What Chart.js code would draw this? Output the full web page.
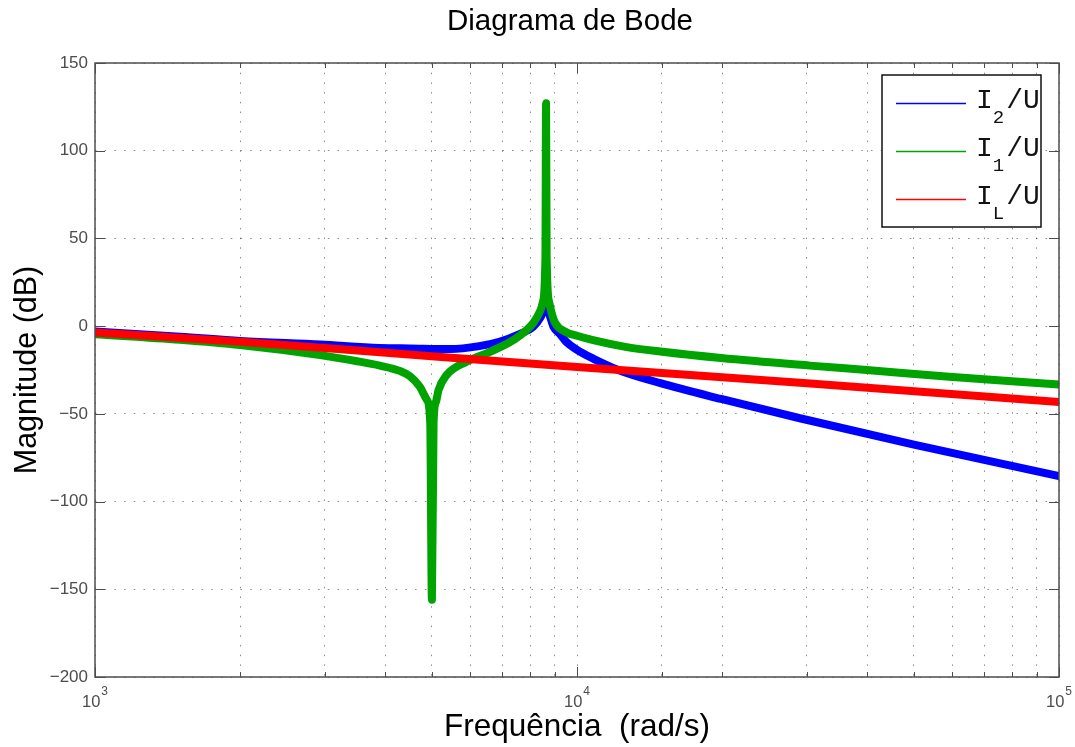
<!DOCTYPE html>
<html>
<head>
<meta charset="utf-8">
<title>Diagrama de Bode</title>
<script src="https://cdn.jsdelivr.net/npm/chart.js@4.4.1/dist/chart.umd.min.js"></script>
<style>
  html, body { margin: 0; padding: 0; background: #fff; }
  #wrap { width: 1075px; height: 747px; position: relative; }
</style>
</head>
<body>
<div id="wrap"><canvas id="bode"></canvas></div>
<script>
// I2/U magnitude (dB) vs frequency (rad/s)
var i2Freq = [1000, 1500, 2000, 2930, 3900, 4500, 5460, 6270, 6900, 7600, 8100, 8400, 8580, 8626, 8680, 8850, 8940, 9220, 9500, 10000, 10800, 12100, 14900, 19900, 29000, 50000, 100000];
var i2Mag  = [-3.1, -6.0, -8.4, -10.5, -12.4, -12.7, -13.1, -11.4, -8.9, -4.5, -0.5, 5, 11, 14, 11, 3, -0.5, -4.5, -9, -13.5, -18.5, -24.7, -32.5, -41.5, -52.5, -67.5, -85.5];

// I1/U
var i1Freq = [1000, 1500, 2000, 2930, 3500, 3900, 4290, 4500, 4720, 4880, 4960, 5000, 5040, 5100, 5160, 5360, 5900, 6600, 7370, 8100, 8400, 8500, 8600, 8626, 8650, 8750, 8850, 9000, 9500, 10000, 10800, 12600, 14900, 19900, 30400, 39900, 59200, 100000];
var i1Mag  = [-4.6, -7.8, -10.8, -16.5, -20, -22.5, -25.5, -28.5, -34.6, -42, -55, -156, -55, -43, -36.5, -28, -20.3, -14.6, -8, 1.5, 9, 14, 40, 127, 40, 14, 8, 2, -3.5, -5.5, -8, -11.8, -14.5, -18.2, -22.5, -25.0, -28.8, -33.3];

// IL/U
var iLFreq = [1000, 2000, 3900, 10000, 30000, 100000];
var iLMag  = [-3.6, -8.9, -14.9, -23.3, -32.6, -43.2];

// legend text pieces: I + subscript + /U
var legendSubs = ['2', '1', 'L'];
var legendTail = '/U';

// x decade labels: 10^n
var xTickExponents = [3, 4, 5];

var chartTitle = 'Diagrama de Bode';

var sansFont = "'Liberation Sans', Arial, Helvetica, sans-serif";
var monoFont = "'Liberation Mono', 'Courier New', monospace";
var axisGray = '#4d4d4d';

function toPoints(xs, ys) {
    return xs.map(function (x, i) { return { x: x, y: ys[i] }; });
}

function isDecade(v) {
    var l = Math.log10(v);
    return Math.abs(l - Math.round(l)) < 1e-9;
}

// title, box, inward ticks, x labels with exponents and the legend
var axesFrame = {
    id: 'axesFrame',
    afterDraw: function (chart) {
        var ctx = chart.ctx;
        var a = chart.chartArea;
        var xs = chart.scales.x;
        var ys = chart.scales.y;

        ctx.save();

        ctx.fillStyle = '#000';
        ctx.font = '29.5px ' + sansFont;
        ctx.textAlign = 'center';
        ctx.textBaseline = 'middle';
        ctx.fillText(chartTitle, (a.left + a.right) / 2 - 7, 22);

        ctx.strokeStyle = axisGray;
        ctx.lineWidth = 1;
        ctx.beginPath();
        xs.ticks.forEach(function (t) {
            var px = Math.round(xs.getPixelForValue(t.value)) + 0.5;
            var len = isDecade(t.value) ? 10 : 5;
            ctx.moveTo(px, a.bottom); ctx.lineTo(px, a.bottom - len);
            ctx.moveTo(px, a.top); ctx.lineTo(px, a.top + len);
        });
        ys.ticks.forEach(function (t) {
            var py = Math.round(ys.getPixelForValue(t.value)) + 0.5;
            ctx.moveTo(a.left, py); ctx.lineTo(a.left + 10, py);
            ctx.moveTo(a.right, py); ctx.lineTo(a.right - 10, py);
        });
        ctx.stroke();

        ctx.lineWidth = 1.5;
        ctx.strokeRect(a.left, a.top, a.right - a.left, a.bottom - a.top);

        // 10^n labels under the x axis
        ctx.fillStyle = axisGray;
        ctx.textBaseline = 'alphabetic';
        ctx.textAlign = 'left';
        xTickExponents.forEach(function (n) {
            var px = xs.getPixelForValue(Math.pow(10, n));
            ctx.font = '16.5px ' + sansFont;
            var wBase = ctx.measureText('10').width;
            ctx.font = '12px ' + sansFont;
            var wExp = ctx.measureText(String(n)).width;
            var x0 = px - (wBase + wExp + 1) / 2;
            ctx.font = '16.5px ' + sansFont;
            ctx.fillText('10', x0, a.bottom + 30);
            ctx.font = '12px ' + sansFont;
            ctx.fillText(String(n), x0 + wBase + 1, a.bottom + 18);
        });

        // legend
        var bx = a.right - 177, by = a.top + 12, bw = 159, bh = 152;
        ctx.fillStyle = '#fff';
        ctx.fillRect(bx, by, bw, bh);
        ctx.strokeStyle = '#111';
        ctx.lineWidth = 1.5;
        ctx.strokeRect(bx, by, bw, bh);

        chart.data.datasets.forEach(function (ds, i) {
            var ry = by + 28.5 + i * 48;
            ctx.strokeStyle = ds.borderColor;
            ctx.lineWidth = 1.5;
            ctx.beginPath();
            ctx.moveTo(bx + 14, ry);
            ctx.lineTo(bx + 84, ry);
            ctx.stroke();

            ctx.fillStyle = '#111';
            var tx = bx + 94;
            ctx.font = '28px ' + monoFont;
            ctx.fillText('I', tx, ry + 4);
            var wI = ctx.measureText('I').width;
            ctx.font = '19px ' + monoFont;
            ctx.fillText(legendSubs[i], tx + wI, ry + 19);
            var wS = ctx.measureText(legendSubs[i]).width;
            ctx.font = '28px ' + monoFont;
            ctx.fillText(legendTail, tx + wI + wS + 2, ry + 4);
        });
        ctx.restore();
    }
};

new Chart('bode', {
    type: 'line',
    data: {
        datasets: [{
            label: 'I2/U',
            data: toPoints(i2Freq, i2Mag),
            borderColor: '#0000ff',
            order: 2
        }, {
            label: 'I1/U',
            data: toPoints(i1Freq, i1Mag),
            borderColor: '#00a300',
            order: 1
        }, {
            label: 'IL/U',
            data: toPoints(iLFreq, iLMag),
            borderColor: '#ff0000',
            order: 0
        }]
    },
    options: {
        responsive: true,
        maintainAspectRatio: false,
        animation: false,
        layout: { padding: { left: 0, right: 16, top: 63, bottom: 0 } },
        elements: {
            point: { radius: 0 },
            line: {
                borderWidth: 8,
                cubicInterpolationMode: 'monotone',
                borderCapStyle: 'round',
                borderJoinStyle: 'round',
                fill: false
            }
        },
        datasets: { line: { clip: 0 } },
        scales: {
            x: {
                type: 'logarithmic',
                min: 1000,
                max: 100000,
                afterFit: function (s) { s.height = 70; },
                ticks: { display: false },
                grid: { color: 'rgba(0,0,0,0.45)', lineWidth: 1, drawTicks: false },
                border: { display: false, dash: [1.5, 8.2] },
                title: {
                    display: true,
                    text: 'Frequência  (rad/s)',
                    color: '#000',
                    font: { family: sansFont, size: 31.5 },
                    padding: { top: 0, bottom: 1 }
                }
            },
            y: {
                min: -200,
                max: 150,
                afterFit: function (s) { s.width = 95; },
                ticks: {
                    stepSize: 50,
                    padding: 7,
                    color: axisGray,
                    font: { family: sansFont, size: 17 },
                    callback: function (v) { return v < 0 ? '\u2212' + Math.abs(v) : String(v); }
                },
                grid: { color: 'rgba(0,0,0,0.45)', lineWidth: 1, drawTicks: false },
                border: { display: false, dash: [1.5, 8.2] },
                title: {
                    display: true,
                    text: 'Magnitude (dB)',
                    color: '#000',
                    font: { family: sansFont, size: 30.5 },
                    padding: { top: 9.7, bottom: 0 }
                }
            }
        },
        plugins: {
            legend: { display: false },
            tooltip: { enabled: false },
            title: { display: false }
        }
    },
    plugins: [axesFrame]
});
</script>
</body>
</html>
